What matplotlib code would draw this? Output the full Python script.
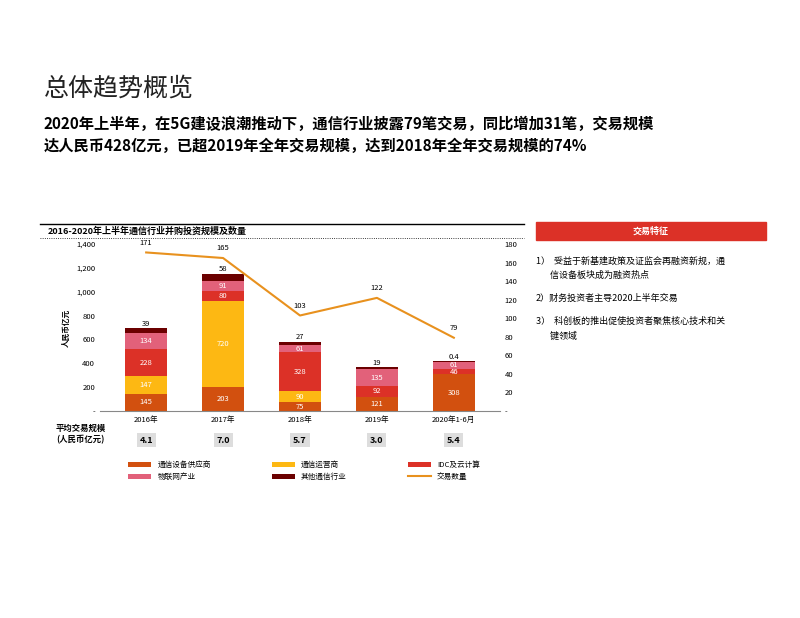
import matplotlib.pyplot as plt
import numpy as np

plt.rcParams['font.family'] = ['Noto Sans CJK SC', 'DejaVu Sans']

years = ['2016年', '2017年', '2018年', '2019年', '2020年1-6月']
series = ['通信设备供应商', '通信运营商', 'IDC及云计算', '物联网产业', '其他通信行业']
colors = ['#D2500F', '#FDB813', '#DC3127', '#E2617A', '#6B0000']
supplier = [145, 203, 75, 121, 308]
operator = [147, 720, 90, 0, 0]
idc = [228, 80, 328, 92, 46]
iot = [134, 91, 61, 135, 61]
other = [39, 58, 27, 19, 0.4]
deals = [171, 165, 103, 122, 79]
avg_size = ['4.1', '7.0', '5.7', '3.0', '5.4']

fig = plt.figure(figsize=(8, 6.18), dpi=100)
fig.text(0.055, 0.845, '总体趋势概览', fontsize=18, color='#222222')
fig.text(0.055, 0.755, '2020年上半年，在5G建设浪潮推动下，通信行业披露79笔交易，同比增加31笔，交易规模\n达人民币428亿元，已超2019年全年交易规模，达到2018年全年交易规模的74%',
         fontsize=11, fontweight='bold', linespacing=1.5)

fig.text(0.06, 0.621, '2016-2020年上半年通信行业并购投资规模及数量', fontsize=6.5, fontweight='bold')
fig.add_artist(plt.Line2D([0.05, 0.655], [0.638, 0.638], color='black', lw=1))
fig.add_artist(plt.Line2D([0.05, 0.655], [0.615, 0.615], color='black', lw=0.6, ls=':'))

ax = fig.add_axes([0.125, 0.335, 0.5, 0.27])
x = np.arange(len(years))
bottom = np.zeros(len(years))
for vals, c, name in zip([supplier, operator, idc, iot, other], colors, series):
    vals = np.array(vals, dtype=float)
    ax.bar(x, vals, 0.55, bottom=bottom, color=c, label=name)
    for xi, v, b in zip(x, vals, bottom):
        if v <= 0:
            continue
        if c == colors[4]:
            ax.text(xi, b + v + 5, f'{v:g}', ha='center', va='bottom', fontsize=5.5)
        else:
            ax.text(xi, b + v / 2, f'{v:g}', ha='center', va='center', fontsize=5.5, color='white')
    bottom += vals
ax.set_ylim(0, 1400)
ax.set_yticks(range(0, 1401, 200))
ax.set_yticklabels(['-'] + [f'{v:,}' for v in range(200, 1401, 200)])
ax.set_xticks(x)
ax.set_xticklabels(years)
ax.set_xlim(-0.6, 4.6)
ax.set_ylabel('人民币亿元', fontsize=5.5, fontweight='bold')
for s in ['top', 'right', 'left']:
    ax.spines[s].set_visible(False)
ax.spines['bottom'].set_color('#888888')
ax.tick_params(labelsize=5.5, length=0)

ax2 = ax.twinx()
ax2.plot(x, deals, color='#E8911E', lw=1.5, label='交易数量')
for xi, d in zip(x, deals):
    ax2.text(xi, d + 6, str(d), ha='center', va='bottom', fontsize=5.5)
ax2.set_ylim(0, 180)
ax2.set_yticks(range(0, 181, 20))
ax2.set_yticklabels(['-'] + [str(v) for v in range(20, 181, 20)])
for s in ['top', 'right', 'left', 'bottom']:
    ax2.spines[s].set_visible(False)
ax2.tick_params(labelsize=5.5, length=0)

fig.text(0.07, 0.285, '平均交易规模\n(人民币亿元)', fontsize=6, fontweight='bold', linespacing=1.3)
for xi, a in zip(x, avg_size):
    xf = 0.125 + 0.5 * (xi + 0.6) / 5.2
    fig.text(xf, 0.288, a, ha='center', va='center', fontsize=6.5, fontweight='bold',
             bbox=dict(boxstyle='square,pad=0.3', fc='#DDDDDD', ec='none'))

h1, l1 = ax.get_legend_handles_labels()
h2, l2 = ax2.get_legend_handles_labels()
hs, ls = h1 + h2, l1 + l2
order = [0, 3, 1, 4, 2, 5]
fig.legend([hs[i] for i in order], [ls[i] for i in order], loc='upper center',
           bbox_to_anchor=(0.38, 0.265), ncol=3, fontsize=5.5, frameon=False,
           handlelength=3, handleheight=0.6, columnspacing=8)

fig.add_artist(plt.Rectangle((0.67, 0.612), 0.287, 0.028, color='#DC3127', transform=fig.transFigure))
fig.text(0.813, 0.626, '交易特征', ha='center', va='center', fontsize=6.5, color='white', fontweight='bold')
notes = [(0.585, '1）  受益于新基建政策及证监会再融资新规，通\n       信设备板块成为融资热点'),
         (0.525, '2）财务投资者主导2020上半年交易'),
         (0.487, '3）  科创板的推出促使投资者聚焦核心技术和关\n       键领域')]
for y, t in notes:
    fig.text(0.67, y, t, fontsize=6.5, va='top', linespacing=1.7)

fig.savefig('out.png', dpi=100)
